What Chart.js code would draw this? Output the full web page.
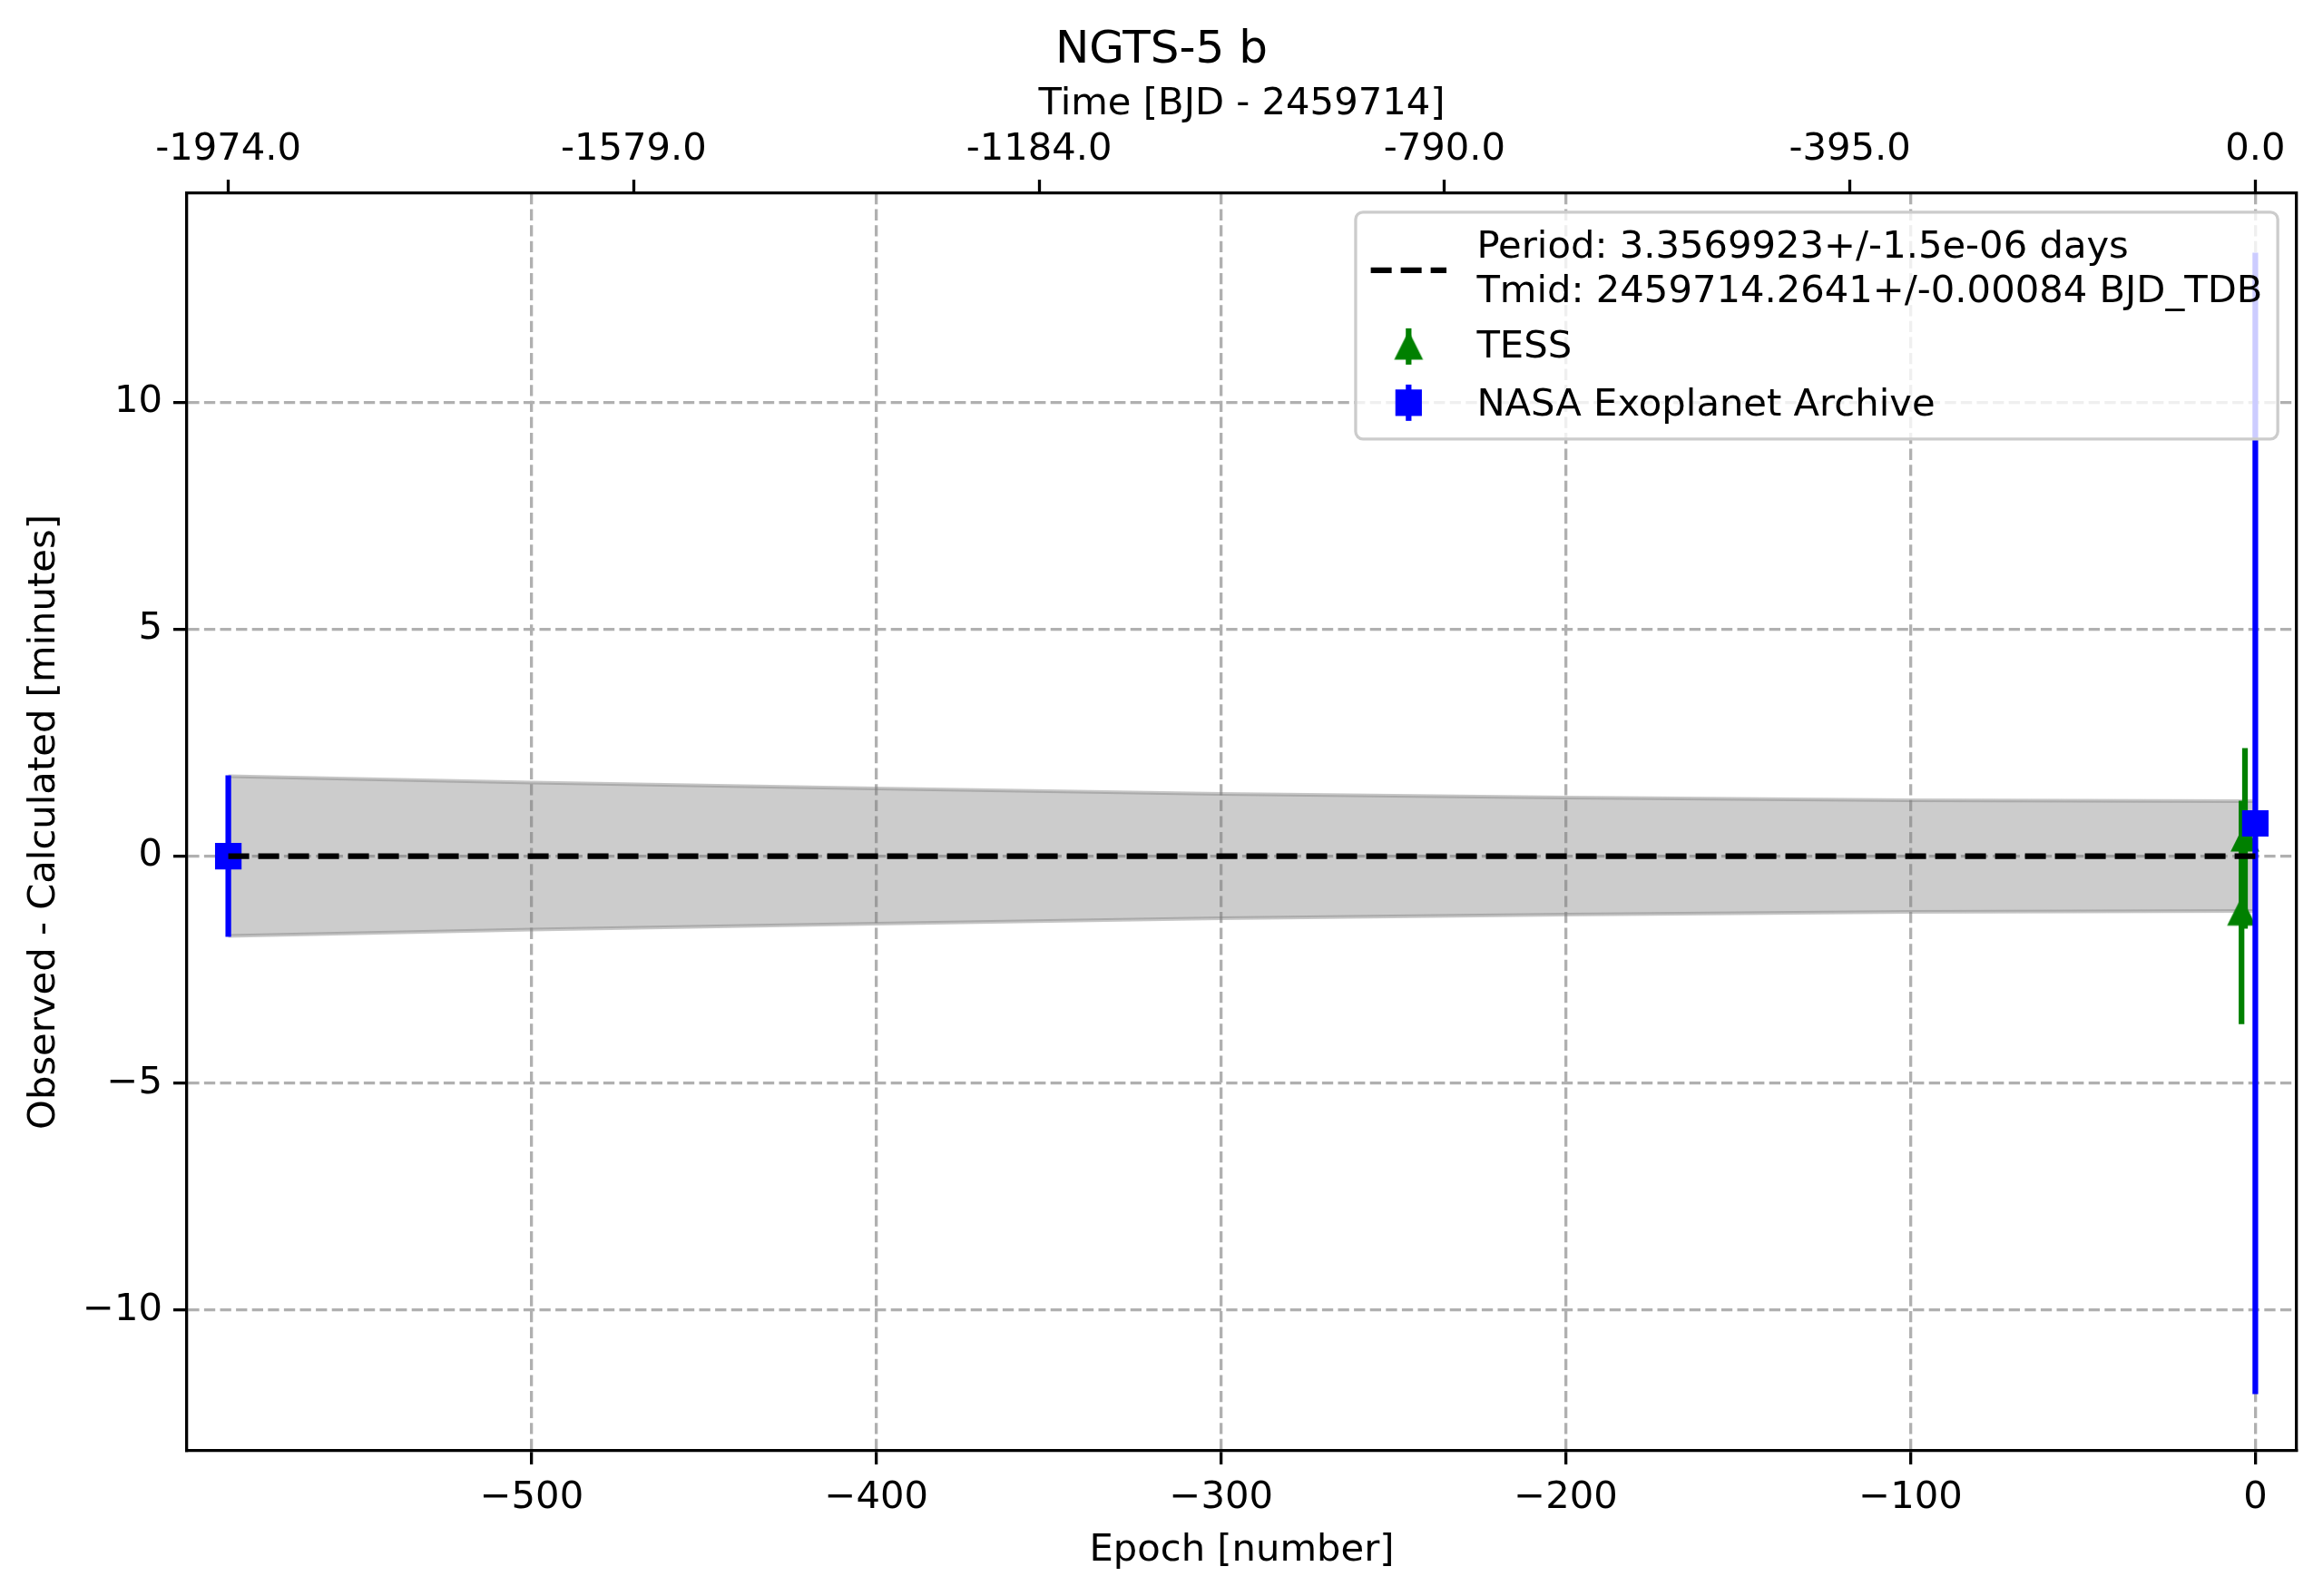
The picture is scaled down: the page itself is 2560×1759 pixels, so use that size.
<!DOCTYPE html>
<html>
<head>
<meta charset="utf-8">
<script src="https://cdn.jsdelivr.net/npm/chart.js@4.4.1/dist/chart.umd.min.js"></script>
<style>
html, body { margin:0; padding:0; background:#fff; }
canvas { display:block; }
</style>
</head>
<body>
<canvas id="c" width="2560" height="1759" style="width:2560px;height:1759px"></canvas>
<script>
const plotTitle = 'NGTS-5 b'
const ephemLabel = ['Period: 3.3569923+/-1.5e-06 days', 'Tmid: 2459714.2641+/-0.00084 BJD_TDB']

// TESS transits: epoch, O-C [min], error [min]
const tessEpoch = [-4, -3]
const tessOC = [-1.24, 0.39]
const tessErr = [2.46, 1.99]

// NASA Exoplanet Archive
const nasaEpoch = [-588, 0]
const nasaOC = [0.0, 0.72]
const nasaErr = [1.78, 12.57]

// ephemeris uncertainty band, half width [min]
const bandEpoch = [-588, -500, -400, -300, -200, -100, 0]
const bandHalf = [1.76, 1.62, 1.49, 1.37, 1.29, 1.23, 1.21]

const xTicks = [-500, -400, -300, -200, -100, 0]
const yTicks = [-10, -5, 0, 5, 10]
const topTickEpoch = [-588, -470.4, -352.8, -235.2, -117.6, 0]
const topTickLabels = ['-1974.0', '-1579.0', '-1184.0', '-790.0', '-395.0', '0.0']

const FS = 41.7
Chart.defaults.font.family = '"DejaVu Sans", sans-serif'
Chart.defaults.font.size = FS
Chart.defaults.color = '#000'

const minus = v => v < 0 ? '\u2212' + (-v) : String(v)
const errSegs = (xs, ys, es) => xs.flatMap((x, i) => [{x, y: ys[i] - es[i]}, {x, y: ys[i] + es[i]}, {x, y: null}])

// matplotlib style '^' marker
const triImg = (() => {
	const c = document.createElement('canvas')
	c.width = 44; c.height = 44
	const g = c.getContext('2d')
	g.fillStyle = g.strokeStyle = '#008000'
	g.lineWidth = 4.2
	g.beginPath(); g.moveTo(22, 9.5); g.lineTo(34.5, 34.5); g.lineTo(9.5, 34.5); g.closePath()
	g.fill(); g.stroke()
	return c
})()

const legendBox = {
	id: 'legendBox',
	afterDraw(chart) {
		const {ctx, chartArea: a} = chart
		ctx.save()
		ctx.font = `${FS}px "DejaVu Sans"`
		const texts = [...ephemLabel, 'TESS', 'NASA Exoplanet Archive']
		const textW = Math.max(...texts.map(t => ctx.measureText(t).width))
		const w = 0.8 * FS + 2 * FS + 0.8 * FS + textW
		const h = 250
		const right = a.right - 0.5 * FS, top = a.top + 0.5 * FS, left = right - w
		ctx.beginPath()
		if (ctx.roundRect) ctx.roundRect(left, top, w, h, 8); else ctx.rect(left, top, w, h)
		ctx.fillStyle = 'rgba(255,255,255,0.8)'
		ctx.fill()
		ctx.strokeStyle = '#cccccc'
		ctx.lineWidth = 3.3
		ctx.stroke()

		const hx0 = left + 0.4 * FS, hx1 = hx0 + 2 * FS, hc = (hx0 + hx1) / 2, tx = hx1 + 0.8 * FS

		// ephemeris line
		ctx.beginPath(); ctx.setLineDash([23, 10])
		ctx.moveTo(hx0, top + 64); ctx.lineTo(hx1, top + 64)
		ctx.strokeStyle = '#000'; ctx.lineWidth = 6.25; ctx.stroke()
		ctx.setLineDash([])

		// TESS
		let y = top + 148
		ctx.beginPath(); ctx.moveTo(hc, y - 20); ctx.lineTo(hc, y + 20)
		ctx.strokeStyle = '#008000'; ctx.stroke()
		ctx.drawImage(triImg, hc - 22, y - 22)

		// NASA
		y = top + 210
		ctx.beginPath(); ctx.moveTo(hc, y - 20); ctx.lineTo(hc, y + 20)
		ctx.strokeStyle = '#0000ff'; ctx.stroke()
		ctx.fillStyle = '#0000ff'
		ctx.fillRect(hc - 14.6, y - 14.6, 29.2, 29.2)

		ctx.fillStyle = '#000'
		ctx.textBaseline = 'middle'
		ctx.textAlign = 'left'
		ctx.fillText(ephemLabel[0], tx, top + 39)
		ctx.fillText(ephemLabel[1], tx, top + 88)
		ctx.fillText('TESS', tx, top + 149)
		ctx.fillText('NASA Exoplanet Archive', tx, top + 213)
		ctx.restore()
	}
}

const gridX = {color: '#b0b0b0', lineWidth: 3.3, tickColor: '#000', tickWidth: 3.3, tickLength: 15}
const borderK = {display: true, color: '#000', width: 3.3, dash: [12.3, 5.3]}

new Chart(document.getElementById('c'), {
	type: 'scatter',
	data: {
		datasets: [
			{
				type: 'line', label: 'ephemeris',
				data: [{x: bandEpoch[0], y: 0}, {x: bandEpoch[bandEpoch.length - 1], y: 0}],
				borderColor: '#000', borderWidth: 6.25, borderDash: [23, 10], pointRadius: 0, order: 0,
			},
			{
				label: 'NASA Exoplanet Archive',
				data: nasaEpoch.map((x, i) => ({x, y: nasaOC[i]})),
				pointStyle: 'rect', pointRadius: 17.7, backgroundColor: '#0000ff', borderColor: '#0000ff', borderWidth: 4.2, order: 1,
			},
			{
				type: 'line', label: 'NASA err',
				data: errSegs(nasaEpoch, nasaOC, nasaErr),
				borderColor: '#0000ff', borderWidth: 6.25, pointRadius: 0, spanGaps: false, order: 2,
			},
			{
				label: 'TESS',
				data: tessEpoch.map((x, i) => ({x, y: tessOC[i]})),
				pointStyle: triImg, pointRadius: 15, order: 3,
			},
			{
				type: 'line', label: 'TESS err',
				data: errSegs(tessEpoch, tessOC, tessErr),
				borderColor: '#008000', borderWidth: 6.25, pointRadius: 0, spanGaps: false, order: 4,
			},
			{
				type: 'line', label: 'band lo',
				data: bandEpoch.map((x, i) => ({x, y: -bandHalf[i]})),
				borderColor: 'rgba(128,128,128,0.45)', borderWidth: 4, pointRadius: 0, order: 5,
			},
			{
				type: 'line', label: 'band hi',
				data: bandEpoch.map((x, i) => ({x, y: bandHalf[i]})),
				borderColor: 'rgba(128,128,128,0.45)', borderWidth: 4, pointRadius: 0, order: 5,
				fill: '-1', backgroundColor: 'rgba(128,128,128,0.4)',
			},
		]
	},
	options: {
		responsive: false,
		devicePixelRatio: 1,
		animation: false,
		layout: {padding: 0},
		plugins: {
			legend: {display: false},
			tooltip: {enabled: false},
			title: {
				display: true, text: plotTitle, color: '#000',
				font: {size: 50, weight: 'normal'},
				padding: {top: 26, bottom: 0},
			},
		},
		scales: {
			x: {
				type: 'linear', position: 'bottom', min: -600, max: 12,
				afterBuildTicks: s => { s.ticks = xTicks.map(v => ({value: v})) },
				afterFit: s => { s.height = 160 },
				ticks: {callback: minus, padding: 12, maxRotation: 0, autoSkip: false},
				grid: gridX,
				border: borderK,
				title: {display: true, text: 'Epoch [number]', padding: {top: 0, bottom: 25}},
			},
			x2: {
				type: 'linear', position: 'top', min: -600, max: 12,
				afterBuildTicks: s => { s.ticks = topTickEpoch.map(v => ({value: v})) },
				afterFit: s => { s.height = 127 },
				ticks: {callback: (v, i) => topTickLabels[i], padding: 8, maxRotation: 0, autoSkip: false},
				grid: {drawOnChartArea: false, tickColor: '#000', tickWidth: 3.3, tickLength: 15},
				border: borderK,
				title: {display: true, text: 'Time [BJD - 2459714]', padding: {top: 4, bottom: 0}},
			},
			y: {
				type: 'linear', position: 'left', min: -13.1, max: 14.6,
				afterBuildTicks: s => { s.ticks = yTicks.map(v => ({value: v})) },
				afterFit: s => { s.width = 206 },
				ticks: {callback: minus, padding: 12, autoSkip: false},
				grid: gridX,
				border: borderK,
				title: {display: true, text: 'Observed - Calculated [minutes]', padding: {top: 24, bottom: 0}},
			},
			y2: {
				type: 'linear', position: 'right', min: 0, max: 1,
				afterFit: s => { s.width = 29 },
				ticks: {display: false},
				grid: {display: false},
				border: {display: true, color: '#000', width: 3.3},
			},
		},
	},
	plugins: [legendBox],
})
</script>
</body>
</html>
